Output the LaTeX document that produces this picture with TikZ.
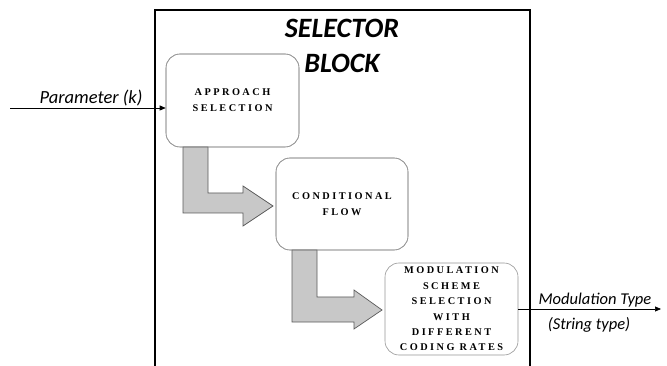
\documentclass[tikz,border=0pt]{standalone}
\usepackage{fontspec}
\setmainfont{Liberation Serif}
\newfontfamily\lblfont{Carlito}
\newfontfamily\boxfont[LetterSpace=24]{Liberation Serif}
\usetikzlibrary{arrows.meta}
\definecolor{boxgray}{RGB}{150,150,150}
\definecolor{arrfill}{RGB}{200,200,200}
\definecolor{arrdraw}{RGB}{90,90,90}
\tikzset{
  rbox/.style={draw=boxgray, line width=0.6pt, rounded corners=14pt, fill=white, align=center,
    inner sep=0pt, font=\boxfont\bfseries\fontsize{10.3}{15.8}\selectfont},
  blockarrow/.style={fill=arrfill, draw=arrdraw, line width=0.7pt, line join=miter},
  sig/.style={line width=0.7pt, -{Triangle[length=6pt,width=5pt]}},
  lbl/.style={font=\lblfont\itshape\fontsize{16.5}{18}\selectfont, inner sep=0pt},
}
\begin{document}
\begin{tikzpicture}[x=1pt,y=-1pt]
\useasboundingbox (0,0) rectangle (667,366);
% outer selector block (open at bottom)
\draw[line width=1.4pt] (155,380) -- (155,10) -- (530,10) -- (530,380);
\node[font=\lblfont\bfseries\itshape\fontsize{28}{35}\selectfont, align=center, inner sep=0pt] (title) at (342,46) {SELECTOR\\BLOCK};
% boxes
\node[rbox, minimum width=133pt, minimum height=93pt] (ap) at (232.5,100.5) {APPROACH\\SELECTION};
\node[rbox, minimum width=132pt, minimum height=92pt] (cf) at (342,204) {CONDITIONAL\\FLOW};
\node[rbox, minimum width=133pt, minimum height=92pt, font=\boxfont\bfseries\fontsize{10.3}{15.4}\selectfont] (mod) at (451.5,309) {MODULATION\\SCHEME\\SELECTION\\WITH\\DIFFERENT\\CODING RATES};
% block arrows
\draw[blockarrow] (183,147) -- (208,147) -- (208,193) -- (243,193) -- (243,186) -- (273,206) -- (243,226) -- (243,213) -- (183,213) -- cycle;
\draw[blockarrow] (292,250) -- (317,250) -- (317,297) -- (354,297) -- (354,290) -- (382,310) -- (354,329) -- (354,322) -- (292,322) -- cycle;
% redraw box borders on top
\node[rbox, fill=none, minimum width=133pt, minimum height=93pt] at (ap) {};
\node[rbox, fill=none, minimum width=132pt, minimum height=92pt] at (cf) {};
% signals
\coordinate (pin) at (10,108);
\draw[sig] (pin) -- (pin -| ap.west);
\node[lbl, font=\lblfont\itshape\fontsize{18.5}{20}\selectfont] (plbl) at (91,98) {Parameter (k)};
\coordinate (pout) at (661,309);
\draw[sig] (mod.east) -- (pout);
\node[lbl] (mlbl) at (595,300) {Modulation Type};
\node[lbl] (slbl) at (589,325) {(String type)};
\end{tikzpicture}
\end{document}
